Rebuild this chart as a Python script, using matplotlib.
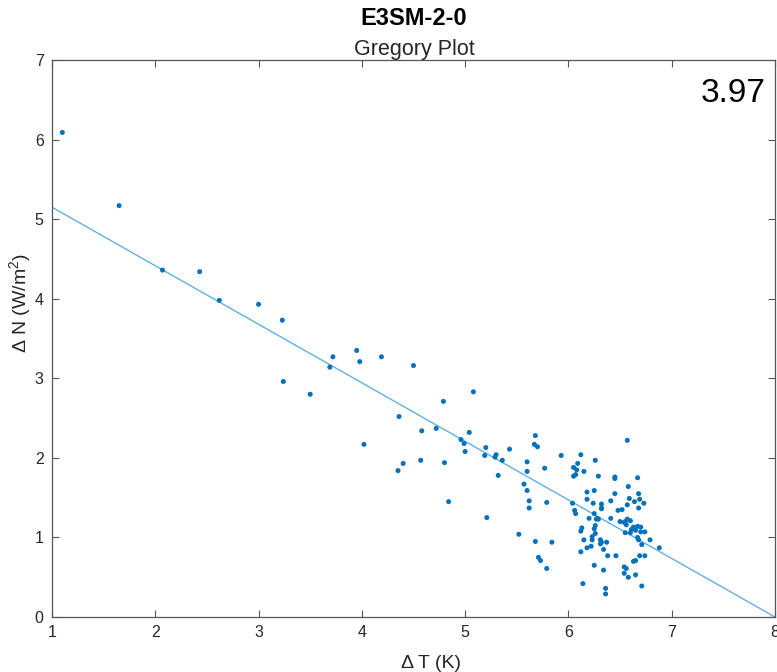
import matplotlib
matplotlib.use("Agg")
import matplotlib.pyplot as plt
import numpy as np

plt.rcParams['font.family'] = ['Liberation Sans', 'DejaVu Sans']
plt.rcParams['mathtext.fontset'] = 'custom'
plt.rcParams['mathtext.rm'] = 'Liberation Sans'
plt.rcParams['mathtext.it'] = 'Liberation Sans:italic'
plt.rcParams['mathtext.bf'] = 'Liberation Sans:bold'

dT = [1.10, 1.65, 2.07, 2.43, 2.62, 3.00, 3.23, 3.24, 3.50, 3.69, 3.72, 3.95, 3.98, 4.19, 4.50,
      4.02, 4.36, 4.35, 4.40, 4.57, 4.58, 4.72, 4.79, 4.80, 4.84, 5.08, 4.96, 4.99, 5.00, 5.04,
      5.20, 5.19, 5.29, 5.30, 5.36, 5.43, 5.32, 5.21, 5.60, 5.60, 5.57, 5.60, 5.62, 5.62, 5.68,
      5.67, 5.70, 5.77, 5.79, 5.52, 5.68, 5.84, 5.71, 5.73, 5.79, 5.93, 6.12, 6.09, 6.05, 6.08,
      6.15, 6.05, 6.26, 6.29, 6.45, 6.45, 6.57, 6.58, 6.18, 6.18, 6.25, 6.04, 6.06, 6.07, 6.24,
      6.32, 6.32, 6.41, 6.45, 6.48, 6.52, 6.57, 6.20, 6.25, 6.28, 6.27, 6.41, 6.50, 6.54, 6.56,
      6.26, 6.25, 6.13, 6.12, 6.26, 6.15, 6.23, 6.23, 6.18, 6.22, 6.31, 6.32, 6.31, 6.37, 6.34,
      6.38, 6.46, 6.12, 6.25, 6.34, 6.14, 6.36, 6.36, 6.54, 6.56, 6.54, 6.58, 6.55, 6.67, 6.68,
      6.59, 6.64, 6.69, 6.73, 6.68, 6.55, 6.60, 6.63, 6.61, 6.67, 6.70, 6.74, 6.70, 6.65, 6.60,
      6.67, 6.68, 6.71, 6.79, 6.88, 6.69, 6.74, 6.65, 6.63, 6.65, 6.71, 6.32, 6.07, 6.29, 6.57]
dN = [6.09, 5.17, 4.36, 4.34, 3.98, 3.93, 3.73, 2.96, 2.80, 3.14, 3.27, 3.35, 3.21, 3.27, 3.16,
      2.17, 2.52, 1.84, 1.93, 1.97, 2.34, 2.37, 2.71, 1.94, 1.45, 2.83, 2.23, 2.18, 2.08, 2.32,
      2.13, 2.03, 2.01, 2.04, 1.97, 2.11, 1.78, 1.25, 1.95, 1.83, 1.67, 1.59, 1.46, 1.37, 2.28,
      2.17, 2.14, 1.87, 1.44, 1.04, 0.95, 0.94, 0.75, 0.71, 0.61, 2.03, 2.04, 1.93, 1.88, 1.85,
      1.83, 1.77, 1.97, 1.77, 1.76, 1.74, 2.22, 1.64, 1.57, 1.48, 1.59, 1.43, 1.34, 1.30, 1.43,
      1.42, 1.37, 1.46, 1.55, 1.34, 1.35, 1.41, 1.24, 1.30, 1.24, 1.23, 1.24, 1.20, 1.19, 1.16,
      1.15, 1.11, 1.12, 1.08, 1.05, 0.97, 1.01, 0.97, 0.87, 0.89, 0.97, 0.94, 0.92, 0.94, 0.85,
      0.77, 0.77, 0.82, 0.65, 0.59, 0.42, 0.36, 0.29, 0.63, 0.61, 0.55, 0.50, 1.06, 1.75, 1.55,
      1.49, 1.45, 1.48, 1.43, 1.37, 1.20, 1.21, 1.13, 1.10, 1.14, 1.13, 1.07, 1.07, 1.09, 1.06,
      1.00, 0.97, 0.91, 0.97, 0.87, 0.77, 0.77, 0.71, 0.70, 0.53, 0.39, 1.36, 1.79, 1.23, 1.23]

fit_slope = -0.7357
fit_intercept = 5.886
ecs_text = "3.97"
title_text = "E3SM-2-0"
subtitle_text = "Gregory Plot"
xlabel_text = "Δ T (K)"
ylabel_text = r"Δ N (W/m$^{2}$)"
x_ticks = [1, 2, 3, 4, 5, 6, 7, 8]
y_ticks = [0, 1, 2, 3, 4, 5, 6, 7]

fig = plt.figure(figsize=(7.77, 6.72), dpi=100)
ax = fig.add_axes([0.0669, 0.0818, 0.9305, 0.8289])

xl = np.array([1.0, 8.0])
ax.plot(xl, fit_intercept + fit_slope * xl, color='#62B0E2', lw=1.0, zorder=2)
ax.scatter(dT, dN, s=13, color='#0072BD', edgecolors='none', zorder=3)

ax.set_xlim(1, 8)
ax.set_ylim(0, 7)
ax.set_xticks(x_ticks)
ax.set_yticks(y_ticks)
ax.tick_params(direction='in', top=True, right=True, length=5, width=0.8,
               colors='#555555', labelcolor='#262626', labelsize=11.5, pad=6)
for sp in ax.spines.values():
    sp.set_color('#555555')
    sp.set_linewidth(0.9)

fig.text(431 / 777, 1 - 668 / 672, xlabel_text, ha='center', va='baseline',
         fontsize=14, color='#262626')
fig.text(20 / 777, 1 - 303 / 672, ylabel_text, ha='center', va='center',
         rotation=90, rotation_mode='anchor', fontsize=14, color='#262626')

fig.text(414 / 777, 1 - 25 / 672, title_text, ha='center', va='baseline', fontsize=17,
         fontweight='bold', color='#000000')
fig.text(414.5 / 777, 1 - 55 / 672, subtitle_text, ha='center', va='baseline',
         fontsize=15.5, color='#262626')
fig.text(766 / 777, 1 - 102 / 672, ecs_text, ha='right', va='baseline',
         fontsize=24, color='#000000')

fig.savefig("out.png", dpi=100)
